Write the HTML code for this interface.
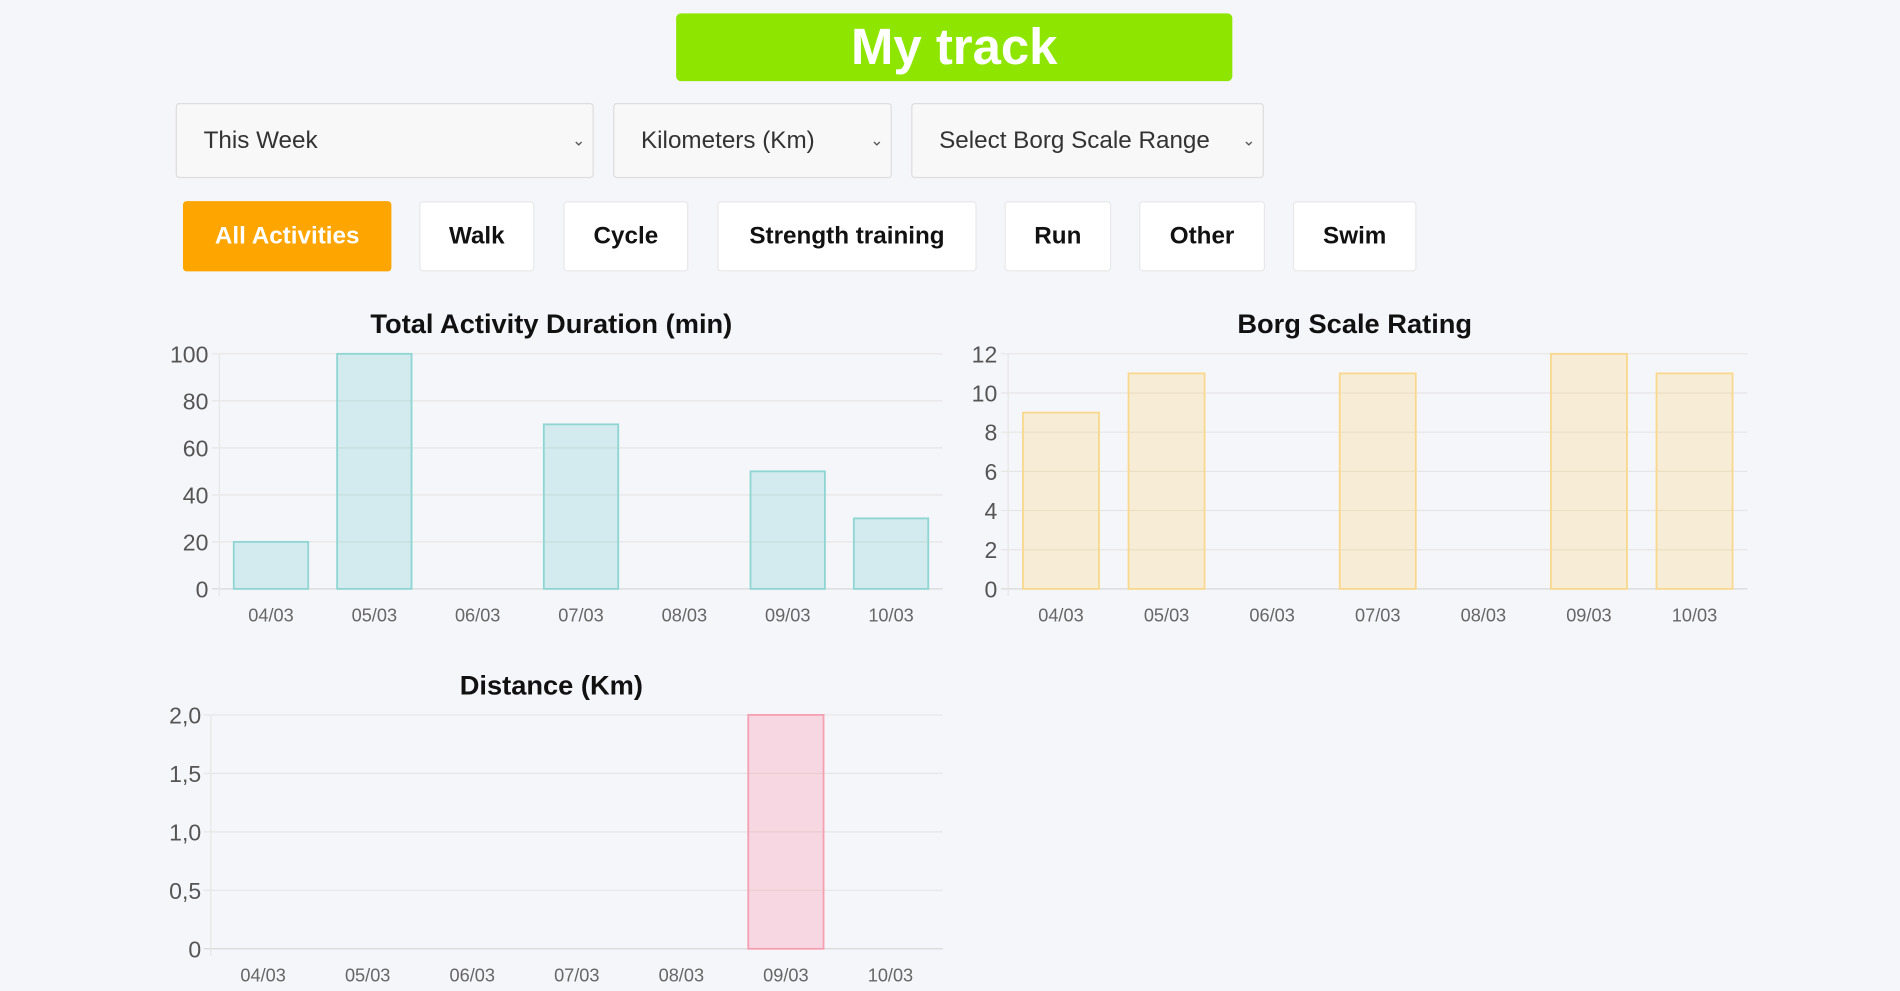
<!DOCTYPE html>
<html><head><meta charset="utf-8"><style>
html,body{margin:0;padding:0;width:1900px;height:991px;overflow:hidden;background:#f5f6fa;font-family:"Liberation Sans",Arial,sans-serif;}
#wrap{position:absolute;left:0;top:0;width:1568px;height:818px;transform:scale(1.21173);transform-origin:0 0;}
.title{position:absolute;left:558px;top:11px;width:459px;height:56px;background:#8ee600;border-radius:4px;color:#fff;font-weight:bold;font-size:42px;text-align:center;line-height:56px;}
.sel{position:absolute;top:85px;height:62px;background:#f8f8f8;border:1px solid #ddd;border-radius:3px;box-sizing:border-box;font-size:20px;color:#333;line-height:60px;padding-left:22px;}
.sel span{position:absolute;right:6px;top:0;font-size:13px;color:#555;}
.btn{position:absolute;top:166px;height:58px;background:#fff;border:1px solid #e8e8e8;border-radius:3px;box-sizing:border-box;font-size:20px;font-weight:bold;color:#111;text-align:center;line-height:56px;}
svg{position:absolute;left:0;top:0;}
</style></head><body>
<div id="wrap">
<div class="title">My track</div>
<div class="sel" style="left:145px;width:345px">This Week<span>⌄</span></div>
<div class="sel" style="left:506px;width:230px">Kilometers (Km)<span>⌄</span></div>
<div class="sel" style="left:752px;width:291px">Select Borg Scale Range<span>⌄</span></div>
<div class="btn" style="left:151px;width:172px;background:#ffa500;color:#fff;border-color:#ffa500">All Activities</div>
<div class="btn" style="left:346px;width:95px">Walk</div>
<div class="btn" style="left:465px;width:103px">Cycle</div>
<div class="btn" style="left:592px;width:214px">Strength training</div>
<div class="btn" style="left:829px;width:88px">Run</div>
<div class="btn" style="left:940px;width:104px">Other</div>
<div class="btn" style="left:1067px;width:102px">Swim</div>
<svg id="charts" width="1568" height="818"></svg>
</div>
<script>
const categories=["04/03","05/03","06/03","07/03","08/03","09/03","10/03"];
const durationValues=[20,100,0,70,0,50,30];
const durationTicks=[0,20,40,60,80,100];
const borgValues=[9,11,0,11,0,12,11];
const borgTicks=[0,2,4,6,8,10,12];
const distanceValues=[0,0,0,0,0,2,0];
const distanceTicks=[0,0.5,1,1.5,2];
const distanceTickLabels=["0","0,5","1,0","1,5","2,0"];

const NS="http://www.w3.org/2000/svg";
const svg=document.getElementById('charts');
function mk(tag,attrs,parent){const e=document.createElementNS(NS,tag);for(const k in attrs)e.setAttribute(k,attrs[k]);(parent||svg).appendChild(e);return e;}
function chart(name,title,cfg){
  const g=mk('g',{});
  
  
  const {x0,x1,y0,y1,max,ticks,labels,values,fill,stroke,labelX,xLabelY,titleY,titleX}=cfg;
  const ys=v=>y1-(v/max)*(y1-y0);
  const bw=(x1-x0)/categories.length;
  const xs=i=>x0+bw*i+bw/2;
  const t=mk('text',{x:titleX,y:titleY,'text-anchor':'middle','font-size':22.5,'font-weight':'bold',fill:'#111'},g);
  t.textContent=title;
  
  
  ticks.forEach((v,i)=>{
    const l=mk('line',{x1:x0-6,x2:x1,y1:ys(v),y2:ys(v),stroke:i==0?'#d8d8d8':'#e6e6e6','stroke-width':1},g);
    
    
    const tx=mk('text',{x:labelX,y:ys(v)+7,'text-anchor':'end','font-size':19,fill:'#555'},g);
    tx.textContent=labels?labels[i]:String(v);
    
    
  });
  mk('line',{x1:x0,x2:x0,y1:y0,y2:y1+6,stroke:'#e6e6e6'},g);
  categories.forEach((c,i)=>{
    const v=values[i];
    if(v>0){
      const r=mk('rect',{x:xs(i)-bw*0.36,y:ys(v),width:bw*0.72,height:y1-ys(v),fill:fill,stroke:stroke,'stroke-width':1.5},g);
      
      
    }
    const tx=mk('text',{x:xs(i),y:xLabelY,'text-anchor':'middle','font-size':15,fill:'#666'},g);
    tx.textContent=c;
    
    
  });
}
chart('duration-chart','Total Activity Duration (min)',{x0:181,x1:778,y0:292,y1:486,max:100,ticks:durationTicks,values:durationValues,fill:'rgba(75,192,192,0.2)',stroke:'#8fd6d3',labelX:172,xLabelY:513,titleY:275,titleX:455});
chart('borg-chart','Borg Scale Rating',{x0:832,x1:1442,y0:292,y1:486,max:12,ticks:borgTicks,values:borgValues,fill:'rgba(255,206,86,0.22)',stroke:'#f9d88e',labelX:823,xLabelY:513,titleY:275,titleX:1118});
chart('distance-chart','Distance (Km)',{x0:174,x1:778,y0:590,y1:783,max:2,ticks:distanceTicks,labels:distanceTickLabels,values:distanceValues,fill:'rgba(255,99,132,0.2)',stroke:'#f5a0b2',labelX:166,xLabelY:810,titleY:573,titleX:455});
</script>
</body></html>
